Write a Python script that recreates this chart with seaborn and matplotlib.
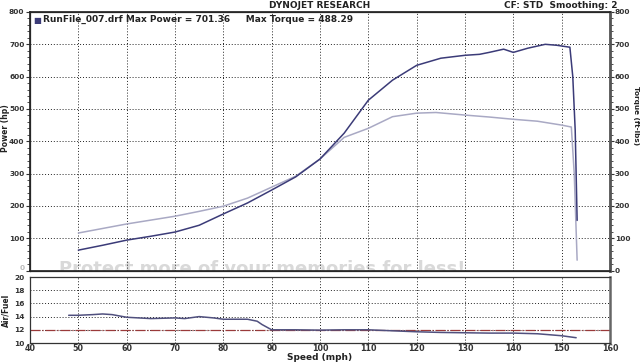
import matplotlib
matplotlib.use("Agg")
import matplotlib.pyplot as plt
import seaborn as sns
import pandas as pd
from matplotlib.ticker import MultipleLocator

sns.set_theme(style="white")
plt.rcParams['font.family'] = ['DejaVu Sans']

# ---- data ----
speed_power = [50, 55, 60, 65, 70, 75, 80, 85, 90, 95, 100, 105, 110, 115, 120, 125, 130,
               133, 135, 138, 140, 143, 146.6, 149, 151.7, 152.3, 152.8, 153.2]
power_hp = [63, 78, 94, 106, 119, 140, 175, 209, 249, 290, 345, 425, 527, 589, 635, 657, 666,
            669, 675, 685, 675, 688, 700, 697, 691, 600, 434, 155]

speed_torque = [50, 55, 60, 65, 70, 75, 80, 85, 90, 95, 100, 105, 110, 115, 120, 124, 130,
                135, 140, 145, 150, 152, 152.6, 153.2]
torque_ftlb = [116, 130, 144, 156, 168, 183, 199, 224, 258, 292, 345, 412, 440, 476, 487, 489, 481,
               475, 468, 462, 450, 444, 300, 32]

speed_afr = [48, 50, 53, 55, 57, 60, 65, 70, 72, 75, 78, 80, 85, 87, 88, 89, 90, 95, 100, 105,
             110, 115, 120, 125, 130, 135, 140, 145, 150, 153]
afr = [14.2, 14.2, 14.3, 14.4, 14.3, 13.9, 13.7, 13.8, 13.7, 14.0, 13.8, 13.6, 13.6, 13.3, 12.8,
       12.4, 12.0, 12.0, 11.95, 12.0, 12.0, 11.85, 11.7, 11.6, 11.55, 11.5, 11.5, 11.4, 11.1, 10.8]

afr_target = 12
x_ticks = list(range(40, 161, 10))
y_ticks = list(range(0, 801, 100))
afr_ticks = [10, 12, 14, 16, 18, 20]

df_p = pd.DataFrame({"speed": speed_power, "val": power_hp})
df_t = pd.DataFrame({"speed": speed_torque, "val": torque_ftlb})
df_a = pd.DataFrame({"speed": speed_afr, "afr": afr})

fig = plt.figure(figsize=(6.4, 3.64), dpi=100)
fig.patch.set_facecolor("white")

W = 640.0
H = 364.0
L, R = 30 / W, 610 / W
ax = fig.add_axes([L, 1 - 270.5 / H, R - L, (270.5 - 12) / H])
ax2 = fig.add_axes([L, 1 - 343 / H, R - L, (343 - 277) / H])

bold = dict(fontsize=6.5, fontweight="bold", color="#222222")
tick_fs = 5.3
xtick_fs = 5.8

# ---- top plot ----
# faint watermark (behind curves)
ax.text(0.05, 0.005, "Protect more of your memories for less!", transform=ax.transAxes,
        fontsize=13, fontweight="bold", color="#d9d9d9", va="center", ha="left",
        clip_on=True, zorder=0)

sns.lineplot(data=df_t, x="speed", y="val", ax=ax, color="#a9a9c4", lw=1.1, sort=False)
sns.lineplot(data=df_p, x="speed", y="val", ax=ax, color="#3b3b78", lw=1.1, sort=False)
ax.set_xlim(40, 160)
ax.set_ylim(0, 800)
ax.set_xticks(x_ticks)
ax.set_yticks(y_ticks)
ax.yaxis.set_minor_locator(MultipleLocator(20))
ax.tick_params(axis="x", labelbottom=False, length=0)
ax.tick_params(axis="y", which="major", length=3, width=0.8, color="#333333", direction="out",
               labelsize=tick_fs, pad=1)
ax.tick_params(axis="y", which="minor", length=2, width=0.6, color="#333333", direction="out")
for t in ax.get_yticklabels():
    t.set_fontweight("bold")
    t.set_color("#333333")
zero_lbl = ax.get_yticklabels()[0]
zero_lbl.set_color("#bbbbbb")
zero_lbl.set_va("bottom")
ax.grid(True, which="major", color="#222222", linestyle=(0, (1, 2)), lw=0.7)
ax.set_xlabel("")
ax.set_ylabel("Power (hp)", fontsize=5.5, fontweight="bold", color="#222222", va="center")
ax.yaxis.set_label_coords(-0.0422, 0.55)
for s in ax.spines.values():
    s.set_color("#333333")
    s.set_linewidth(0.9)

axr = ax.twinx()
axr.set_ylim(0, 800)
axr.set_yticks(y_ticks)
axr.yaxis.set_minor_locator(MultipleLocator(20))
axr.tick_params(axis="y", which="major", length=3, width=0.8, color="#333333", labelsize=tick_fs, pad=0.5)
axr.tick_params(axis="y", which="minor", length=2, width=0.6, color="#333333")
for t in axr.get_yticklabels():
    t.set_fontweight("bold")
    t.set_color("#333333")
axr.set_ylabel("Torque (ft-lbs)", rotation=-90, fontsize=5.2, fontweight="bold", color="#222222",
               va="center")
axr.yaxis.set_label_coords(1.0445, 0.6)
axr.spines["right"].set_linewidth(2.0)
axr.spines["right"].set_color("#555555")

ax.text(0.005, 0.985, "\u25A0", transform=ax.transAxes, fontsize=6, color="#3b3b78",
        va="top", ha="left")
ax.text(0.022, 0.99, "RunFile_007.drf Max Power = 701.36     Max Torque = 488.29",
        transform=ax.transAxes, va="top", ha="left", **bold)

fig.text(0.5, 1 - 6 / H, "DYNOJET RESEARCH", ha="center", va="center", **bold)
fig.text(0.965, 1 - 6 / H, "CF: STD  Smoothing: 2", ha="right", va="center", **bold)

# ---- bottom plot ----
ax2.axhline(afr_target, color="#9a3a3a", lw=0.9, ls=(0, (8, 1.5, 1, 1.5)))
sns.lineplot(data=df_a, x="speed", y="afr", ax=ax2, color="#50507e", lw=1.1, sort=False)
ax2.set_xlim(40, 160)
ax2.set_ylim(10, 20)
ax2.set_xticks(x_ticks)
ax2.set_yticks(afr_ticks)
ax2.xaxis.set_minor_locator(MultipleLocator(2))
ax2.yaxis.set_minor_locator(MultipleLocator(1))
ax2.tick_params(axis="both", which="major", length=3, width=0.7, color="#333333", labelsize=tick_fs, pad=1)
ax2.tick_params(axis="x", labelsize=xtick_fs)
ax2.tick_params(axis="both", which="minor", length=2, width=0.5, color="#333333")
ax2.tick_params(axis="x", which="both", direction="in")
for t in ax2.get_xticklabels() + ax2.get_yticklabels():
    t.set_fontweight("bold")
    t.set_color("#333333")
ax2.grid(True, which="major", color="#222222", linestyle=(0, (1, 2)), lw=0.7)
ax2.set_xlabel("Speed (mph)", **bold, labelpad=0)
ax2.set_ylabel("Air/Fuel", fontsize=5.5, fontweight="bold", color="#222222", va="center")
ax2.yaxis.set_label_coords(-0.0422, 0.5)
for s in ax2.spines.values():
    s.set_color("#333333")
    s.set_linewidth(0.9)
ax2.spines["right"].set_linewidth(1.8)
ax2.spines["right"].set_color("#666666")

fig.savefig("out.png", dpi=100, facecolor="white")
